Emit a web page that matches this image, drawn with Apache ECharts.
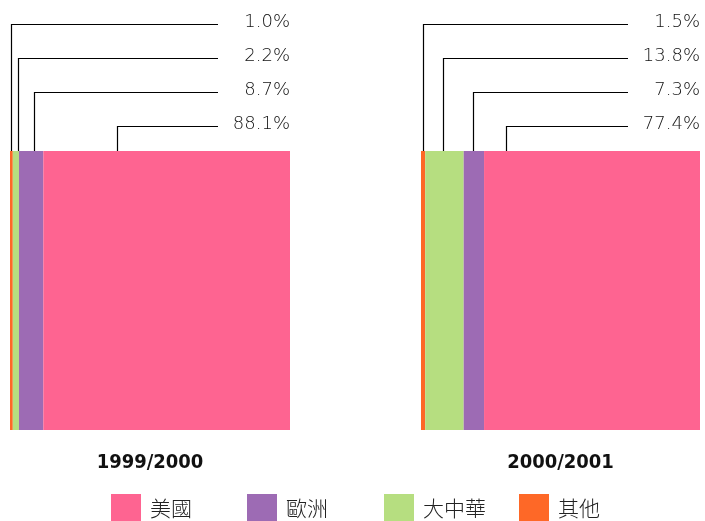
<!DOCTYPE html>
<html><head><meta charset="utf-8">
<script src="https://cdn.jsdelivr.net/npm/echarts@6/dist/echarts.min.js"></script>
<style>html,body{margin:0;padding:0;background:#fff}#c{width:705px;height:521px}</style>
</head><body><div id="c"></div>
<script>
// categories (stack order from left to right)
const regions = ['其他', '大中華', '歐洲', '美國'];
const legendOrder = ['美國', '歐洲', '大中華', '其他'];
const periods = ['1999/2000', '2000/2001'];
// shares in percent, same order as regions
const share1999 = [1.0, 2.2, 8.7, 88.1];
const share2000 = [1.5, 13.8, 7.3, 77.4];
const shares = [share1999, share2000];
// where the leader line leaves each segment (fraction of the segment width)
const leaderFrac = [[0.35, 0.8, 0.6, 0.3], [0.55, 0.45, 0.45, 0.1]];

const colors = {'其他': '#FE6827', '大中華': '#B6DE80', '歐洲': '#9D6BB4', '美國': '#FE6491'};
const numFont = '"DejaVu Sans", sans-serif';

const chart = echarts.init(document.getElementById('c'), null, {renderer: 'canvas'});
const grids = [
  {left: 10, top: 151, width: 280, height: 279},
  {left: 421, top: 151, width: 279, height: 279}
];
const series = [];
periods.forEach((p, gi) => {
  regions.forEach((r, ri) => {
    series.push({
      type: 'bar', name: r, stack: 's' + gi, xAxisIndex: gi, yAxisIndex: gi,
      barWidth: '100%', silent: true,
      itemStyle: {color: colors[r]},
      data: [shares[gi][ri]]
    });
  });
});
const legendLefts = [111, 247, 384, 519];
chart.setOption({
  animation: false,
  grid: grids,
  xAxis: periods.map((p, gi) => ({
    type: 'value', gridIndex: gi, min: 0, max: 100,
    name: p, nameLocation: 'middle', nameGap: 23,
    nameTextStyle: {fontFamily: '"DejaVu Sans Condensed", "DejaVu Sans", sans-serif', fontWeight: 'bold', fontSize: 20, color: '#111'},
    axisLine: {show: false}, axisTick: {show: false}, axisLabel: {show: false}, splitLine: {show: false}
  })),
  yAxis: periods.map((p, gi) => ({
    type: 'category', gridIndex: gi, data: [p], show: false
  })),
  legend: legendOrder.map((name, i) => ({
    data: [name], left: legendLefts[i], top: 494, padding: 0, itemWidth: 30, itemHeight: 28, itemGap: 0,
    icon: 'rect', selectedMode: false,
    textStyle: {fontFamily: '"Noto Sans CJK TC", sans-serif', fontSize: 21, fontWeight: 300, color: '#222', padding: [0, 0, 0, 4]}
  })),
  series: series
});

// leader lines and percentage labels
const lineOffsets = [127, 93, 59, 25];
const graphics = [];
periods.forEach((p, gi) => {
  const g = grids[gi];
  const right = g.left + g.width;
  let cum = 0;
  shares[gi].forEach((v, ri) => {
    const xv = cum + v * leaderFrac[gi][ri];
    cum += v;
    const px = chart.convertToPixel({xAxisIndex: gi}, xv);
    const ly = g.top - lineOffsets[ri];
    graphics.push({
      type: 'polyline', silent: true,
      shape: {points: [[Math.round(px) + 0.5, g.top], [Math.round(px) + 0.5, ly + 0.5], [right - 72, ly + 0.5]]},
      style: {stroke: '#000', lineWidth: 1.2, fill: null}
    });
    graphics.push({
      type: 'text', silent: true, x: right, y: ly - 2,
      style: {text: v.toFixed(1) + '%', align: 'right', verticalAlign: 'middle', font: '200 18px ' + numFont, fill: '#111'}
    });
  });
});
chart.setOption({graphic: graphics});
</script></body></html>
